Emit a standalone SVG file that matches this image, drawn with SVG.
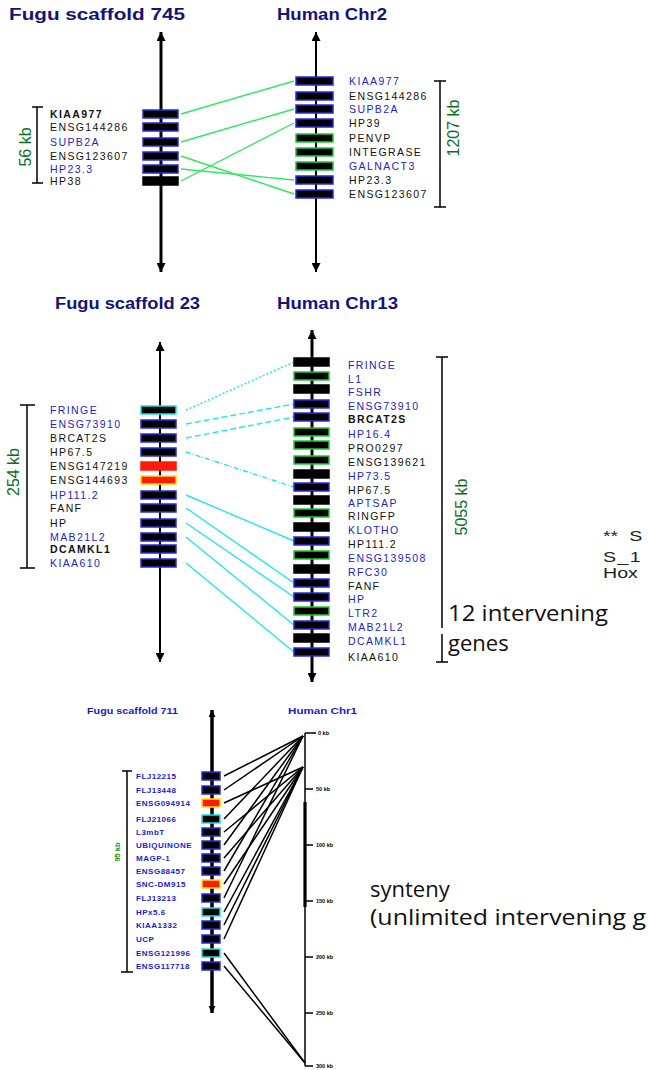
<svg xmlns="http://www.w3.org/2000/svg" width="649" height="1070" viewBox="0 0 649 1070">
<style>
.title{font-family:"Liberation Sans",Arial,sans-serif;font-weight:bold;font-size:16px;fill:#141478}
.title2{font-family:"Liberation Sans",Arial,sans-serif;font-weight:bold;font-size:8.5px;fill:#1a1ac8}
.gl{font-family:"Liberation Sans",Arial,sans-serif;font-size:10.5px;letter-spacing:1.4px}
.sl{font-family:"Liberation Sans",Arial,sans-serif;font-weight:bold;font-size:8px;letter-spacing:0.5px;fill:#1c1cd0}
.k{fill:#111}
.b{fill:#2323c8}
.g{fill:#000;stroke-width:1.5}
.gb{stroke:#2a2ae0}
.gg{stroke:#18d030}
.gc{stroke:#20e0e8}
.gn{stroke:#000}
.red{fill:#ff1a0a;stroke:#ff1a0a;stroke-width:1.5}
.redy{fill:#ff1a0a;stroke:#ffe000;stroke-width:1.5}
.chr{stroke:#000;fill:none}
.bar{stroke:#000;stroke-width:1.5;fill:none}
.kb{font-family:"Liberation Sans",Arial,sans-serif;font-size:16px;fill:#0a6e2a}
.big{font-family:"Open Sans","Liberation Sans",sans-serif;font-size:22px;fill:#111}
.note{font-family:"Liberation Sans",Arial,sans-serif;font-size:14px;fill:#222}
.tk{font-family:"Liberation Sans",Arial,sans-serif;font-weight:bold;font-size:5.5px;fill:#000}
.cg{stroke:#30e860;stroke-width:1.4;fill:none}
.cc{stroke:#22e6ee;stroke-width:1.4;fill:none}
.cbk{stroke:#000;stroke-width:1.5;fill:none}
</style>
<defs>
<marker id="arr" viewBox="0 0 10 10" refX="10" refY="5" markerWidth="9" markerHeight="9" markerUnits="userSpaceOnUse" orient="auto-start-reverse"><path d="M0,0 L10,5 L0,10 z" fill="#000"/></marker>
<marker id="arrs" viewBox="0 0 10 10" refX="10" refY="5" markerWidth="7" markerHeight="7" markerUnits="userSpaceOnUse" orient="auto-start-reverse"><path d="M0,0 L10,5 L0,10 z" fill="#000"/></marker>
</defs>
<rect width="649" height="1070" fill="#fff"/>

<!-- ============ PANEL 1 ============ -->
<text class="title" x="9" y="20" textLength="176" lengthAdjust="spacingAndGlyphs">Fugu scaffold 745</text>
<text class="title" x="277" y="20" textLength="110" lengthAdjust="spacingAndGlyphs">Human Chr2</text>

<g id="chr-fugu745">
<line class="chr" x1="161" y1="32" x2="161" y2="272" stroke-width="3" marker-start="url(#arr)" marker-end="url(#arr)"/>
</g>
<g id="chr-human2">
<line class="chr" x1="316" y1="32" x2="316" y2="272" stroke-width="2" marker-start="url(#arr)" marker-end="url(#arr)"/>
</g>

<g id="scale-56kb">
<path class="bar" d="M32,107 H43 M37,107 V183 M32,183 H43"/>
<text class="kb" transform="translate(31,147) rotate(-90)" text-anchor="middle">56 kb</text>
</g>
<g id="scale-1207kb">
<path class="bar" d="M440,81 V170" stroke-width="1"/>
<path class="bar" d="M440,170 V207 M434,207 H446" stroke-width="2.2"/>
<path class="bar" d="M434,81 H446" stroke-width="2.5"/>
<text class="kb" transform="translate(459,128) rotate(-90)" text-anchor="middle">1207 kb</text>
</g>

<g id="connectors-745">
<path class="cg" d="M181,114 L294,81"/>
<path class="cg" d="M181,142 L294,109"/>
<path class="cg" d="M181,156 L294,194"/>
<path class="cg" d="M181,169 L294,180"/>
<path class="cg" d="M181,181 L294,123"/>
</g>

<g id="f745-1"><rect class="g gb" x="143" y="110" width="35" height="8"/><text class="gl k" x="50" y="118" font-weight="bold">KIAA977</text></g>
<g id="f745-2"><rect class="g gb" x="143" y="123" width="35" height="8"/><text class="gl k" x="50" y="131">ENSG144286</text></g>
<g id="f745-3"><rect class="g gb" x="143" y="138" width="35" height="8"/><text class="gl b" x="50" y="146">SUPB2A</text></g>
<g id="f745-4"><rect class="g gb" x="143" y="152" width="35" height="8"/><text class="gl k" x="50" y="160">ENSG123607</text></g>
<g id="f745-5"><rect class="g gb" x="143" y="165" width="35" height="8"/><text class="gl b" x="50" y="173">HP23.3</text></g>
<g id="f745-6"><rect class="g gn" x="143" y="177" width="35" height="8"/><text class="gl k" x="50" y="185">HP38</text></g>

<g id="h2-1"><rect class="g gb" x="296" y="77" width="37" height="8"/><text class="gl b" x="349" y="85">KIAA977</text></g>
<g id="h2-2"><rect class="g gb" x="296" y="92" width="37" height="8"/><text class="gl k" x="349" y="100">ENSG144286</text></g>
<g id="h2-3"><rect class="g gb" x="296" y="105" width="37" height="8"/><text class="gl b" x="349" y="113">SUPB2A</text></g>
<g id="h2-4"><rect class="g gb" x="296" y="119" width="37" height="8"/><text class="gl k" x="349" y="127">HP39</text></g>
<g id="h2-5"><rect class="g gg" x="296" y="134" width="37" height="8"/><text class="gl k" x="349" y="142">PENVP</text></g>
<g id="h2-6"><rect class="g gg" x="296" y="148" width="37" height="8"/><text class="gl k" x="349" y="156">INTEGRASE</text></g>
<g id="h2-7"><rect class="g gg" x="296" y="162" width="37" height="8"/><text class="gl b" x="349" y="170">GALNACT3</text></g>
<g id="h2-8"><rect class="g gb" x="296" y="176" width="37" height="8"/><text class="gl k" x="349" y="184">HP23.3</text></g>
<g id="h2-9"><rect class="g gb" x="296" y="190" width="37" height="8"/><text class="gl k" x="349" y="198">ENSG123607</text></g>

<!-- ============ PANEL 2 ============ -->
<text class="title" x="55" y="309" textLength="145" lengthAdjust="spacingAndGlyphs">Fugu scaffold 23</text>
<text class="title" x="277" y="309" textLength="121" lengthAdjust="spacingAndGlyphs">Human Chr13</text>

<g id="chr-fugu23">
<line class="chr" x1="160" y1="342" x2="160" y2="662" stroke-width="2" marker-start="url(#arr)" marker-end="url(#arr)"/>
</g>
<g id="chr-human13">
<line class="chr" x1="312" y1="330" x2="312" y2="682" stroke-width="3" marker-start="url(#arr)" marker-end="url(#arr)"/>
</g>

<g id="scale-254kb">
<path class="bar" d="M20,405 H35 M27,405 V568 M20,568 H35"/>
<text class="kb" transform="translate(19,472) rotate(-90)" text-anchor="middle" font-size="17">254 kb</text>
</g>
<g id="scale-5055kb">
<path class="bar" d="M436,357 H448 M442,357 V628 M442,634 V662 M436,662 H448" stroke-width="1.3"/>
<text class="kb" transform="translate(467,507) rotate(-90)" text-anchor="middle">5055 kb</text>
</g>

<g id="connectors-23">
<path class="cc" d="M186,410 L294,362" stroke-dasharray="2 2"/>
<path class="cc" d="M186,424 L294,404" stroke-dasharray="6 3"/>
<path class="cc" d="M186,438 L294,417" stroke-dasharray="6 3"/>
<path class="cc" d="M186,452 L294,487" stroke-dasharray="5 2 1 2"/>
<path class="cc" d="M186,495 L294,541"/>
<path class="cc" d="M186,508 L294,583"/>
<path class="cc" d="M186,523 L294,597"/>
<path class="cc" d="M186,537 L294,625"/>
<path class="cc" d="M186,563 L294,652"/>
</g>

<g id="f23-1"><rect class="g gc" x="141" y="406" width="35" height="8"/><text class="gl b" x="50" y="414">FRINGE</text></g>
<g id="f23-2"><rect class="g gb" x="141" y="420" width="35" height="8"/><text class="gl b" x="50" y="428">ENSG73910</text></g>
<g id="f23-3"><rect class="g gb" x="141" y="434" width="35" height="8"/><text class="gl k" x="50" y="442">BRCAT2S</text></g>
<g id="f23-4"><rect class="g gb" x="141" y="448" width="35" height="8"/><text class="gl k" x="50" y="456">HP67.5</text></g>
<g id="f23-5"><rect class="red" x="141" y="462" width="35" height="8"/><text class="gl k" x="50" y="470">ENSG147219</text></g>
<g id="f23-6"><rect class="redy" x="141" y="476" width="35" height="8"/><text class="gl k" x="50" y="484">ENSG144693</text></g>
<g id="f23-7"><rect class="g gb" x="141" y="491" width="35" height="8"/><text class="gl b" x="50" y="499">HP111.2</text></g>
<g id="f23-8"><rect class="g gb" x="141" y="504" width="35" height="8"/><text class="gl k" x="50" y="512">FANF</text></g>
<g id="f23-9"><rect class="g gb" x="141" y="519" width="35" height="8"/><text class="gl k" x="50" y="527">HP</text></g>
<g id="f23-10"><rect class="g gb" x="141" y="533" width="35" height="8"/><text class="gl b" x="50" y="541">MAB21L2</text></g>
<g id="f23-11"><rect class="g gb" x="141" y="545" width="35" height="8"/><text class="gl k" x="50" y="553" font-weight="bold">DCAMKL1</text></g>
<g id="f23-12"><rect class="g gb" x="141" y="559" width="35" height="8"/><text class="gl b" x="50" y="567">KIAA610</text></g>

<g id="h13-1"><rect class="g gn" x="294" y="358" width="35" height="8"/><text class="gl b" x="348" y="369">FRINGE</text></g>
<g id="h13-2"><rect class="g gg" x="294" y="372" width="35" height="8"/><text class="gl b" x="348" y="383">L1</text></g>
<g id="h13-3"><rect class="g gn" x="294" y="385" width="35" height="8"/><text class="gl b" x="348" y="396">FSHR</text></g>
<g id="h13-4"><rect class="g gb" x="294" y="400" width="35" height="8"/><text class="gl b" x="348" y="410">ENSG73910</text></g>
<g id="h13-5"><rect class="g gb" x="294" y="413" width="35" height="8"/><text class="gl k" x="348" y="423" font-weight="bold">BRCAT2S</text></g>
<g id="h13-6"><rect class="g gg" x="294" y="428" width="35" height="8"/><text class="gl b" x="348" y="438">HP16.4</text></g>
<g id="h13-7"><rect class="g gg" x="294" y="441" width="35" height="8"/><text class="gl k" x="348" y="452">PRO0297</text></g>
<g id="h13-8"><rect class="g gg" x="294" y="456" width="35" height="8"/><text class="gl k" x="348" y="466">ENSG139621</text></g>
<g id="h13-9"><rect class="g gn" x="294" y="470" width="35" height="8"/><text class="gl b" x="348" y="480">HP73.5</text></g>
<g id="h13-10"><rect class="g gb" x="294" y="483" width="35" height="8"/><text class="gl k" x="348" y="494">HP67.5</text></g>
<g id="h13-11"><rect class="g gn" x="294" y="496" width="35" height="8"/><text class="gl b" x="348" y="507">APTSAP</text></g>
<g id="h13-12"><rect class="g gg" x="294" y="509" width="35" height="8"/><text class="gl k" x="348" y="520">RINGFP</text></g>
<g id="h13-13"><rect class="g gn" x="294" y="523" width="35" height="8"/><text class="gl b" x="348" y="534">KLOTHO</text></g>
<g id="h13-14"><rect class="g gb" x="294" y="537" width="35" height="8"/><text class="gl k" x="348" y="548">HP111.2</text></g>
<g id="h13-15"><rect class="g gg" x="294" y="551" width="35" height="8"/><text class="gl b" x="348" y="562">ENSG139508</text></g>
<g id="h13-16"><rect class="g gn" x="294" y="565" width="35" height="8"/><text class="gl b" x="348" y="576">RFC30</text></g>
<g id="h13-17"><rect class="g gb" x="294" y="579" width="35" height="8"/><text class="gl k" x="348" y="590">FANF</text></g>
<g id="h13-18"><rect class="g gb" x="294" y="593" width="35" height="8"/><text class="gl b" x="348" y="603">HP</text></g>
<g id="h13-19"><rect class="g gg" x="294" y="607" width="35" height="8"/><text class="gl b" x="348" y="617">LTR2</text></g>
<g id="h13-20"><rect class="g gb" x="294" y="621" width="35" height="8"/><text class="gl b" x="348" y="631">MAB21L2</text></g>
<g id="h13-21"><rect class="g gn" x="294" y="634" width="35" height="8"/><text class="gl b" x="348" y="645">DCAMKL1</text></g>
<g id="h13-22"><rect class="g gb" x="294" y="648" width="35" height="8"/><text class="gl k" x="348" y="661">KIAA610</text></g>

<text class="big" x="448" y="621" textLength="160" lengthAdjust="spacingAndGlyphs">12 intervening</text>
<text class="big" x="448" y="651">genes</text>

<text class="note" transform="translate(603,541) scale(1.4,1)" word-spacing="4">** S</text>
<text class="note" transform="translate(603,562) scale(1.4,1)" letter-spacing="1">S_1</text>
<text class="note" transform="translate(603,578) scale(1.4,1)">Hox</text>

<!-- ============ PANEL 3 ============ -->
<text class="title2" x="87" y="714" textLength="91" lengthAdjust="spacingAndGlyphs">Fugu scaffold 711</text>
<text class="title2" x="288" y="714" textLength="69" lengthAdjust="spacingAndGlyphs">Human Chr1</text>

<g id="chr-fugu711">
<line class="chr" x1="212" y1="710" x2="212" y2="1013" stroke-width="3.5" marker-start="url(#arrs)" marker-end="url(#arrs)"/>
</g>
<g id="chr-human1">
<line class="chr" x1="305" y1="733" x2="305" y2="1066" stroke-width="1.5"/>
<line class="chr" x1="305" y1="802" x2="305" y2="907" stroke-width="3.2"/>
<path class="chr" d="M305,733 H316 M305,789 H313 M305,845 H313 M305,901 H313 M305,957 H313 M305,1013 H313 M305,1066 H313" stroke-width="1.3"/>
<text class="tk" x="318" y="735">0 kb</text>
<text class="tk" x="316" y="791">50 kb</text>
<text class="tk" x="316" y="847">100 kb</text>
<text class="tk" x="316" y="903">150 kb</text>
<text class="tk" x="316" y="959">200 kb</text>
<text class="tk" x="316" y="1015">250 kb</text>
<text class="tk" x="316" y="1068">300 kb</text>
</g>

<g id="scale-95kb">
<path class="bar" d="M122,771 H132 M127,771 V972 M121,972 H133" stroke-width="1.2"/>
<text class="kb" transform="translate(120,852) rotate(-90)" text-anchor="middle" font-weight="bold" style="font-size:7.5px;fill:#0a9a2a">95 kb</text>
</g>

<g id="connectors-711" class="cbk">
<path d="M224,776 L303,736"/>
<path d="M224,790 L303,736"/>
<path d="M224,803 L303,767"/>
<path d="M224,819 L303,736"/>
<path d="M224,832 L303,767"/>
<path d="M224,845 L303,736"/>
<path d="M224,858 L303,767"/>
<path d="M224,871 L303,736"/>
<path d="M224,884 L303,767"/>
<path d="M224,898 L303,736"/>
<path d="M224,912 L303,767"/>
<path d="M224,925 L303,767"/>
<path d="M224,939 L303,767"/>
<path d="M224,953 L305,1063"/>
<path d="M224,966 L305,1063"/>
</g>

<g id="f711-1"><rect class="g gb" x="202" y="772" width="18" height="8"/><text class="sl" x="136" y="779">FLJ12215</text></g>
<g id="f711-2"><rect class="g gb" x="202" y="786" width="18" height="8"/><text class="sl" x="136" y="793">FLJ13448</text></g>
<g id="f711-3"><rect class="redy" x="202" y="799" width="18" height="8"/><text class="sl" x="136" y="806">ENSG094914</text></g>
<g id="f711-4"><rect class="g gc" x="202" y="815" width="18" height="8"/><text class="sl" x="136" y="822">FLJ21066</text></g>
<g id="f711-5"><rect class="g gb" x="202" y="828" width="18" height="8"/><text class="sl" x="136" y="835">L3mbT</text></g>
<g id="f711-6"><rect class="g gb" x="202" y="841" width="18" height="8"/><text class="sl" x="136" y="848">UBIQUINONE</text></g>
<g id="f711-7"><rect class="g gb" x="202" y="854" width="18" height="8"/><text class="sl" x="136" y="861">MAGP-1</text></g>
<g id="f711-8"><rect class="g gb" x="202" y="867" width="18" height="8"/><text class="sl" x="136" y="874">ENSG88457</text></g>
<g id="f711-9"><rect class="redy" x="202" y="880" width="18" height="8"/><text class="sl" x="136" y="887">SNC-DM915</text></g>
<g id="f711-10"><rect class="g gb" x="202" y="894" width="18" height="8"/><text class="sl" x="136" y="901">FLJ13213</text></g>
<g id="f711-11"><rect class="g gc" x="202" y="908" width="18" height="8"/><text class="sl" x="136" y="915">HPx5.6</text></g>
<g id="f711-12"><rect class="g gb" x="202" y="921" width="18" height="8"/><text class="sl" x="136" y="928">KIAA1332</text></g>
<g id="f711-13"><rect class="g gb" x="202" y="935" width="18" height="8"/><text class="sl" x="136" y="942">UCP</text></g>
<g id="f711-14"><rect class="g gc" x="202" y="949" width="18" height="8"/><text class="sl" x="136" y="956">ENSG121996</text></g>
<g id="f711-15"><rect class="g gb" x="202" y="962" width="18" height="8"/><text class="sl" x="136" y="969">ENSG117718</text></g>

<text class="big" x="370" y="897">synteny</text>
<text class="big" x="370" y="925" textLength="276" lengthAdjust="spacingAndGlyphs">(unlimited intervening g</text>
</svg>
